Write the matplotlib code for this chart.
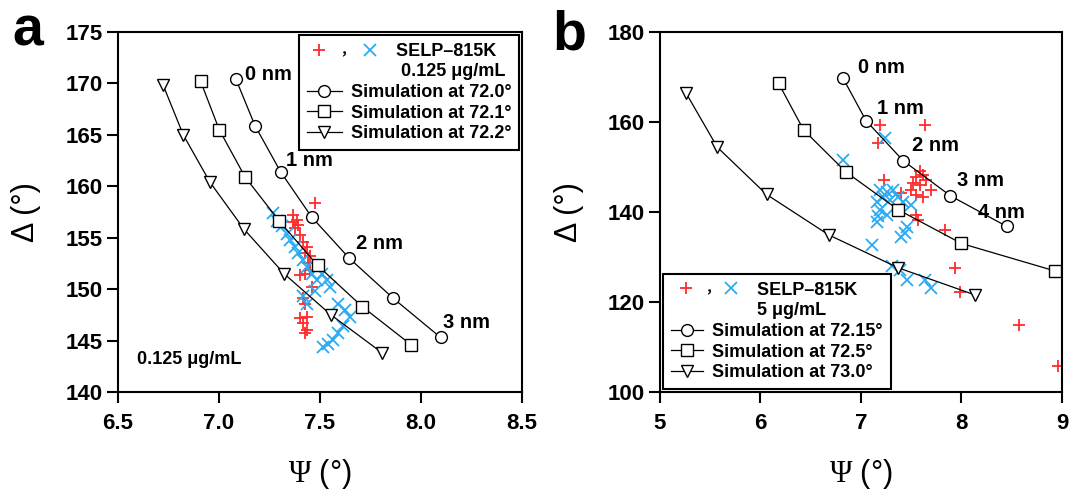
import matplotlib
matplotlib.use("Agg")
import matplotlib.pyplot as plt
from matplotlib.lines import Line2D
from matplotlib.markers import MarkerStyle
from matplotlib.transforms import Affine2D
from matplotlib.legend_handler import HandlerTuple

plt.rcParams['font.family'] = ['Liberation Sans', 'DejaVu Sans']
plt.rcParams['font.weight'] = 'bold'
plt.rcParams['mathtext.fontset'] = 'custom'
plt.rcParams['mathtext.rm'] = 'Liberation Serif:weight=normal'

RED = '#ff2b2b'
BLUE = '#2aaaf2'

# ---------------- panel a : 0.125 ug/mL ----------------
a_sim_angles = ['72.0', '72.1', '72.2']
a_sim_psi = [
    [7.084, 7.178, 7.305, 7.459, 7.645, 7.863, 8.097],
    [6.909, 7.001, 7.129, 7.299, 7.488, 7.709, 7.950],
    [6.724, 6.823, 6.955, 7.125, 7.322, 7.554, 7.808],
]
a_sim_delta = [
    [170.4, 165.9, 161.4, 157.0, 153.0, 149.1, 145.3],
    [170.2, 165.5, 160.9, 156.6, 152.3, 148.3, 144.6],
    [169.8, 165.0, 160.4, 155.8, 151.5, 147.5, 143.8],
]
a_red_psi = [7.475, 7.368, 7.385, 7.368, 7.393, 7.376, 7.401, 7.417, 7.434, 7.426,
             7.450, 7.442, 7.401, 7.426, 7.450, 7.459, 7.417, 7.426, 7.434, 7.401,
             7.417, 7.434, 7.426]
a_red_delta = [158.4, 157.2, 156.7, 156.5, 156.2, 155.9, 155.3, 154.6, 154.1, 153.5,
               153.2, 152.5, 151.4, 151.5, 151.9, 150.2, 149.1, 148.6, 147.3, 147.2,
               146.7, 146.0, 145.7]
a_blue_psi = [7.269, 7.286, 7.310, 7.335, 7.351, 7.376, 7.393, 7.417, 7.434, 7.459,
              7.484, 7.508, 7.533, 7.550, 7.417, 7.434, 7.591, 7.624, 7.649, 7.616,
              7.591, 7.566, 7.541, 7.516, 7.475]
a_blue_delta = [157.4, 156.6, 156.1, 155.4, 154.8, 154.1, 153.5, 152.8, 152.2, 151.5,
                150.9, 151.5, 150.9, 150.2, 149.3, 148.6, 148.6, 148.0, 147.3, 146.4,
                145.7, 145.1, 144.7, 144.4, 149.8]
a_nm_labels = ['0 nm', '1 nm', '2 nm', '3 nm']
a_nm_pos = [(7.13, 170.9), (7.33, 162.5), (7.68, 154.4), (8.11, 146.8)]

# ---------------- panel b : 5 ug/mL ----------------
b_sim_angles = ['72.15', '72.5', '73.0']
b_sim_psi = [
    [6.82, 7.05, 7.42, 7.89, 8.45],
    [6.18, 6.43, 6.85, 7.37, 8.00, 8.93],
    [5.26, 5.57, 6.06, 6.68, 7.37, 8.13],
]
b_sim_delta = [
    [169.8, 160.3, 151.4, 143.6, 136.8],
    [168.6, 158.2, 148.9, 140.5, 133.0, 126.9],
    [166.4, 154.4, 143.9, 134.9, 127.6, 121.6],
]
b_red_psi = [7.19, 7.64, 7.17, 7.23, 7.59, 7.62, 7.55, 7.65, 7.52, 7.59, 7.70,
             7.50, 7.55, 7.62, 7.40, 7.55, 7.57, 7.84, 7.94, 7.99, 8.57, 8.96]
b_red_delta = [159.3, 159.3, 155.3, 147.1, 149.0, 148.2, 147.8, 147.1, 146.4, 146.0,
               144.9, 144.9, 143.8, 143.4, 144.2, 139.3, 138.2, 136.0, 127.5, 122.3,
               114.9, 105.8]
b_blue_psi = [7.24, 6.82, 7.19, 7.26, 7.32, 7.22, 7.29, 7.16, 7.37, 7.42, 7.50, 7.19,
              7.26, 7.17, 7.16, 7.46, 7.44, 7.40, 7.11, 7.31, 7.39, 7.46, 7.64, 7.70]
b_blue_delta = [156.4, 151.6, 144.9, 144.5, 144.9, 143.4, 142.7, 142.3, 143.4, 142.3,
                141.6, 140.4, 139.3, 139.0, 137.8, 136.7, 135.3, 134.5, 132.7, 127.9,
                127.1, 124.9, 124.9, 123.0]
b_nm_labels = ['0 nm', '1 nm', '2 nm', '3 nm', '4 nm']
b_nm_pos = [(6.97, 172.0), (7.16, 163.1), (7.51, 154.7), (7.96, 147.1), (8.16, 139.8)]

SIM_MARKERS = ['o', 's', 'v']


class WideTuple(HandlerTuple):
    # first legend row: "+ , x" is wider than the simulation handles
    def __init__(self, stretch, shift):
        super().__init__(ndivide=None, pad=0)
        self.stretch = stretch
        self.shift = shift

    def create_artists(self, legend, orig_handle, xdescent, ydescent,
                       width, height, fontsize, trans):
        return super().create_artists(legend, orig_handle,
                                      xdescent - self.shift * width, ydescent,
                                      width * self.stretch, height, fontsize, trans)


def draw_panel(ax, sim_psi, sim_delta, red_psi, red_delta, blue_psi, blue_delta,
               nm_labels, nm_pos):
    ax.plot(red_psi, red_delta, ls='none', marker='+', color=RED, ms=9, mew=1.3, zorder=2)
    ax.plot(blue_psi, blue_delta, ls='none', marker='x', color=BLUE, ms=8, mew=1.3, zorder=2)
    for x, y, m in zip(sim_psi, sim_delta, SIM_MARKERS):
        ax.plot(x, y, color='black', lw=0.9, marker=m, ms=8.5, mfc='white',
                mec='black', mew=1.0, zorder=3)
    for s, (x, y) in zip(nm_labels, nm_pos):
        ax.text(x, y, s, fontsize=14.5, ha='left', va='center', zorder=4)
    for sp in ax.spines.values():
        sp.set_linewidth(1.5)
    ax.tick_params(direction='out', length=8, width=1.5, labelsize=16,
                   top=False, right=False)
    ax.tick_params(axis='y', pad=3)
    ax.tick_params(axis='x', pad=7)


def add_legend(ax, conc, angles, loc, hlen, stretch, shift, pad1, pad2):
    comma = MarkerStyle('$,$', transform=Affine2D().translate(0, -0.7))
    data_h = (Line2D([], [], ls='none', marker='+', color=RED, ms=9, mew=1.3),
              Line2D([], [], ls='none', marker=comma, color='black', ms=3.5, mew=0.3),
              Line2D([], [], ls='none', marker='x', color=BLUE, ms=8, mew=1.3))
    blank = Line2D([], [], ls='none')
    sims = [Line2D([], [], color='black', lw=0.9, marker=m, ms=8.5, mfc='white',
                   mec='black', mew=1.0) for m in SIM_MARKERS]
    labels = [' ' * pad1 + 'SELP\u2013815K', ' ' * pad2 + conc] + \
             ['Simulation at %s\u00b0' % a for a in angles]
    leg = ax.legend([data_h, blank] + sims, labels, loc=loc,
                    handler_map={tuple: WideTuple(stretch, shift)},
                    fontsize=13, handlelength=hlen, handletextpad=0.5,
                    labelspacing=0.2, borderpad=0.45, borderaxespad=0.15,
                    fancybox=False, framealpha=1, edgecolor='black')
    leg.get_frame().set_linewidth(1.5)
    leg.set_zorder(5)


fig = plt.figure(figsize=(10.73, 4.96), dpi=100)
ax1 = fig.add_axes([0.110, 0.2097, 0.3765, 0.7258])
ax2 = fig.add_axes([0.6151, 0.2097, 0.3746, 0.7258])

# panel a
draw_panel(ax1, a_sim_psi, a_sim_delta, a_red_psi, a_red_delta, a_blue_psi,
           a_blue_delta, a_nm_labels, a_nm_pos)
ax1.set_xlim(6.5, 8.5)
ax1.set_ylim(140, 175)
ax1.set_xticks([6.5, 7.0, 7.5, 8.0, 8.5])
ax1.set_xticklabels(['6.5', '7.0', '7.5', '8.0', '8.5'])
ax1.set_yticks(range(140, 176, 5))
ax1.text(0.047, 0.089, '0.125 \u03bcg/mL', transform=ax1.transAxes, fontsize=13,
         ha='left', va='center')
add_legend(ax1, '0.125 \u03bcg/mL', a_sim_angles, 'upper right', 1.9, 2.23, -0.03, 9, 10)

# panel b
draw_panel(ax2, b_sim_psi, b_sim_delta, b_red_psi, b_red_delta, b_blue_psi,
           b_blue_delta, b_nm_labels, b_nm_pos)
ax2.set_xlim(5, 9)
ax2.set_ylim(100, 180)
ax2.set_xticks([5, 6, 7, 8, 9])
ax2.set_yticks(range(100, 181, 20))
add_legend(ax2, '5 \u03bcg/mL', b_sim_angles, 'lower left', 1.8, 2.05, 0.14, 9, 9)

for ax in (ax1, ax2):
    ax.set_xlabel(r'$\Psi$ (°)', fontsize=22, fontweight='normal')
    ax.set_ylabel('\u0394 (°)', fontsize=22, fontweight='normal')
    ax.xaxis.set_label_coords(0.5, -0.18)
    ax.yaxis.set_label_coords(-0.19, 0.5)

fig.text(12 / 1073, 1 - 45 / 496, 'a', fontsize=40, fontweight='bold', va='baseline')
fig.text(552 / 1073, 1 - 50 / 496, 'b', fontsize=40, fontweight='bold', va='baseline')

fig.savefig('out.png', dpi=100)
